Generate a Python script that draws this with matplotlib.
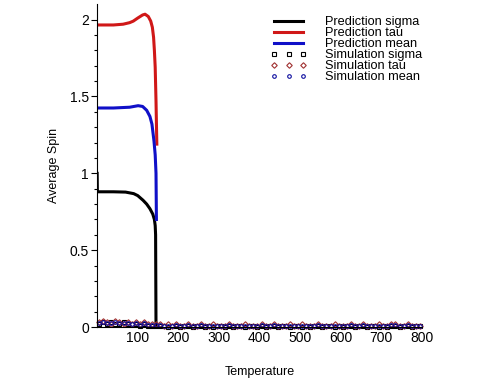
import numpy as np
import matplotlib
matplotlib.use('Agg')
import matplotlib.pyplot as plt

plt.rcParams['font.family'] = ['Liberation Sans', 'DejaVu Sans']

# prediction curves
t_sigma = [0, 0.5, 40, 70, 90, 100, 113, 122, 130, 137, 141, 143, 144, 145]
pred_sigma = [1.0, 0.88, 0.88, 0.878, 0.868, 0.855, 0.825, 0.80, 0.77, 0.735, 0.70, 0.66, 0.60, 0.0]

t_tau = [0, 40, 64, 80, 89, 100, 106, 112, 118, 126, 132, 136, 139, 141, 143, 145, 147]
pred_tau = [1.965, 1.965, 1.97, 1.98, 1.99, 2.01, 2.02, 2.03, 2.035, 2.02, 1.99, 1.95, 1.885, 1.80, 1.69, 1.47, 1.19]

t_mean = [0, 40, 80, 101, 112, 122, 130, 135, 140, 143, 145, 146]
pred_mean = [1.425, 1.425, 1.43, 1.44, 1.435, 1.41, 1.37, 1.32, 1.21, 1.12, 1.0, 0.70]

# simulation points (every 10 degrees)
t_sim = np.arange(5, 800, 10)
sim_sigma = [0.02, 0.03, 0.02, 0.03, 0.02, 0.02, 0.03, 0.02, 0.02, 0.02, 0.01, 0.02, 0.01, 0.01, 0.01, 0.01,
             0.01, 0.00, 0.01, 0.01, 0.00, 0.01, 0.01, 0.00, 0.01, 0.01, 0.00, 0.01, 0.00, 0.01, 0.01, 0.00,
             0.01, 0.00, 0.01, 0.01, 0.00, 0.01, 0.01, 0.00, 0.01, 0.00, 0.01, 0.01, 0.00, 0.01, 0.01, 0.00,
             0.01, 0.01, 0.00, 0.01, 0.00, 0.01, 0.01, 0.00, 0.01, 0.01, 0.00, 0.01, 0.00, 0.01, 0.01, 0.00,
             0.01, 0.01, 0.00, 0.01, 0.01, 0.00, 0.01, 0.00, 0.01, 0.01, 0.00, 0.01, 0.01, 0.00, 0.01, 0.01]
sim_tau = [0.03, 0.04, 0.03, 0.02, 0.04, 0.03, 0.02, 0.03, 0.02, 0.03, 0.02, 0.03, 0.02, 0.02, 0.02, 0.02,
           0.01, 0.02, 0.01, 0.02, 0.01, 0.01, 0.02, 0.01, 0.01, 0.02, 0.01, 0.01, 0.02, 0.01, 0.01, 0.01,
           0.02, 0.01, 0.01, 0.01, 0.02, 0.01, 0.01, 0.01, 0.02, 0.01, 0.01, 0.02, 0.01, 0.01, 0.01, 0.02,
           0.01, 0.01, 0.02, 0.01, 0.01, 0.01, 0.02, 0.01, 0.01, 0.01, 0.02, 0.01, 0.01, 0.01, 0.02, 0.01,
           0.01, 0.02, 0.01, 0.01, 0.01, 0.02, 0.01, 0.01, 0.02, 0.02, 0.01, 0.01, 0.02, 0.01, 0.01, 0.01]
sim_mean = [0.025, 0.035, 0.025, 0.025, 0.03, 0.025, 0.025, 0.025, 0.02, 0.025, 0.015, 0.025, 0.015, 0.015, 0.015, 0.015,
            0.01, 0.01, 0.01, 0.015, 0.005, 0.01, 0.015, 0.005, 0.01, 0.015, 0.005, 0.01, 0.01, 0.01, 0.01, 0.005,
            0.015, 0.005, 0.01, 0.01, 0.01, 0.01, 0.01, 0.005, 0.015, 0.005, 0.01, 0.015, 0.005, 0.01, 0.01, 0.01,
            0.01, 0.01, 0.01, 0.01, 0.005, 0.01, 0.015, 0.005, 0.01, 0.01, 0.01, 0.01, 0.005, 0.01, 0.015, 0.005,
            0.01, 0.015, 0.005, 0.01, 0.01, 0.01, 0.01, 0.005, 0.015, 0.015, 0.005, 0.01, 0.015, 0.005, 0.01, 0.01]

fig = plt.figure(figsize=(4.81, 3.83), dpi=100)
ax = fig.add_axes([0.202, 0.146, 0.675, 0.843])

ax.plot(t_sigma, pred_sigma, color='black', lw=2.2, label='Prediction sigma')
ax.plot(t_tau, pred_tau, color='#d01818', lw=2.2, label='Prediction tau')
ax.plot(t_mean, pred_mean, color='#1010c8', lw=2.2, label='Prediction mean')
ax.plot(t_sim, sim_sigma, ls='none', marker='s', ms=2.6, mfc='none', mec='black', mew=0.8,
        label='Simulation sigma', clip_on=False)
ax.plot(t_sim, sim_tau, ls='none', marker='D', ms=2.8, mfc='none', mec='#a03030', mew=0.8,
        label='Simulation tau', clip_on=False)
ax.plot(t_sim, sim_mean, ls='none', marker='o', ms=2.6, mfc='none', mec='#1010a0', mew=0.8,
        label='Simulation mean', clip_on=False)

ax.set_xlim(0, 800)
ax.set_ylim(0, 2.1)
ax.spines['top'].set_visible(False)
ax.spines['right'].set_visible(False)
ax.set_xticks([100, 200, 300, 400, 500, 600, 700, 800])
ax.set_yticks([0, 0.5, 1, 1.5, 2])
ax.set_yticklabels(['0', '0.5', '1', '1.5', '2'])
ax.set_yticks(np.arange(0, 2.1, 0.1), minor=True)
ax.tick_params(axis='both', labelsize=10, length=4, width=0.8, pad=2)
ax.tick_params(axis='y', which='minor', length=2.5, width=0.8)
ax.tick_params(axis='x', length=0, pad=3)

fig.text(0.112, 0.567, 'Average Spin', rotation=90, ha='center', va='center', fontsize=9)
fig.text(0.54, 0.029, 'Temperature', ha='center', va='center', fontsize=9)

ax.legend(loc='upper left', bbox_to_anchor=(0.562, 0.958), bbox_transform=fig.transFigure,
          frameon=False, fontsize=9.2, labelspacing=-0.08, handlelength=2.85, handletextpad=1.4,
          numpoints=3, borderpad=0, borderaxespad=0)

fig.savefig('out.png', dpi=100)
